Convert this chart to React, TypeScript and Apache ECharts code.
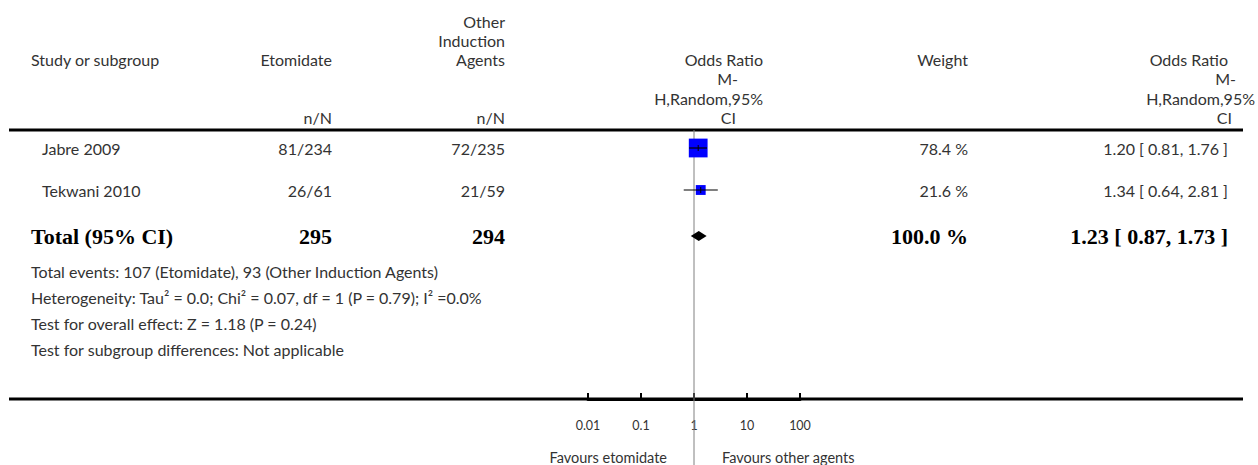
import React, { useEffect, useRef } from "react";
import * as echarts from "echarts";

// ---------- data ----------
const STUDIES = ["Jabre 2009", "Tekwani 2010"];
const ETOMIDATE_NN = ["81/234", "26/61"];
const OTHER_NN = ["72/235", "21/59"];
const ODDS_RATIO = [1.2, 1.34];
const CI_LOW = [0.81, 0.64];
const CI_HIGH = [1.76, 2.81];
const WEIGHT = [78.4, 21.6];
const WEIGHT_LABELS = ["78.4 %", "21.6 %"];
const OR_LABELS = ["1.20 [ 0.81, 1.76 ]", "1.34 [ 0.64, 2.81 ]"];

const TOTAL_LABEL = "Total (95% CI)";
const TOTAL_ETOMIDATE = "295";
const TOTAL_OTHER = "294";
const TOTAL_WEIGHT = "100.0 %";
const TOTAL_OR = [1.23];
const TOTAL_LOW = [0.87];
const TOTAL_HIGH = [1.73];
const TOTAL_OR_LABEL = "1.23 [ 0.87, 1.73 ]";

const FOOTNOTES = [
  "Total events: 107 (Etomidate), 93 (Other Induction Agents)",
  "Heterogeneity: Tau² = 0.0; Chi² = 0.07, df = 1 (P = 0.79); I² =0.0%",
  "Test for overall effect: Z = 1.18 (P = 0.24)",
  "Test for subgroup differences: Not applicable",
];

const TICK_VALUES = [0.01, 0.1, 1, 10, 100];
const TICK_LABELS = ["0.01", "0.1", "1", "10", "100"];
const FAVOURS_LEFT = "Favours etomidate";
const FAVOURS_RIGHT = "Favours other agents";

const HEAD_STUDY = "Study or subgroup";
const HEAD_ETOMIDATE = ["Etomidate"];
const HEAD_OTHER = ["Other", "Induction", "Agents"];
const HEAD_OR = ["Odds Ratio", "M-", "H,Random,95%", "CI"];
const HEAD_WEIGHT = "Weight";
const HEAD_NN = "n/N";

// ---------- layout ----------
const W = 1258;
const H = 465;
const FONT = "Lato, 'Open Sans', sans-serif";
const SERIF = "'Liberation Serif', 'DejaVu Serif', serif";
const TXT = "#333";
const FS = 16;
const RULE_TOP = 130;
const RULE_BOTTOM = 399;
const RULE_X1 = 9;
const RULE_X2 = 1243;
const ROW_Y = [148, 190];
const TOTAL_Y = 236;
const FOOT_Y = [271, 297, 323, 349];
const HEAD_Y = [21, 40.3, 59.6, 78.9, 98.2, 117.5];
const COL_STUDY = 31;
const COL_STUDY_ROW = 42;
const COL_ETO = 332;
const COL_OTH = 505;
const COL_WEIGHT = 968;
const COL_OR_R = 1228;
const HEAD_OR_MID_X = [763, 738, 763, 736];
const HEAD_OR_RIGHT_X = [1228, 1236, 1255, 1232];
const AX_LEFT = 588;
const AX_RIGHT = 800;

function txt(text: string, x: number, y: number, align: string, opts: any = {}) {
  return {
    type: "text",
    x,
    y,
    silent: true,
    style: {
      text,
      align,
      verticalAlign: "middle",
      fill: opts.fill || TXT,
      fontSize: opts.fontSize || FS,
      fontFamily: opts.fontFamily || FONT,
      fontWeight: opts.fontWeight || "normal",
    },
  };
}

export default function App() {
  const ref = useRef<HTMLDivElement>(null);

  useEffect(() => {
    if (!ref.current) return;
    const chart = echarts.init(ref.current, null, { renderer: "svg" });

    const graphics: any[] = [];
    // rules
    graphics.push({
      type: "line",
      silent: true,
      shape: { x1: RULE_X1, y1: RULE_TOP, x2: RULE_X2, y2: RULE_TOP },
      style: { stroke: "#000", lineWidth: 3 },
    });
    graphics.push({
      type: "line",
      silent: true,
      shape: { x1: RULE_X1, y1: RULE_BOTTOM, x2: RULE_X2, y2: RULE_BOTTOM },
      style: { stroke: "#000", lineWidth: 3 },
    });
    // header
    graphics.push(txt(HEAD_STUDY, COL_STUDY, HEAD_Y[2], "left"));
    HEAD_ETOMIDATE.forEach((t, i) => graphics.push(txt(t, COL_ETO, HEAD_Y[2 - (HEAD_ETOMIDATE.length - 1) + i], "right")));
    HEAD_OTHER.forEach((t, i) => graphics.push(txt(t, COL_OTH, HEAD_Y[i], "right")));
    HEAD_OR.forEach((t, i) => {
      graphics.push(txt(t, HEAD_OR_MID_X[i], HEAD_Y[2 + i], "right"));
      graphics.push(txt(t, HEAD_OR_RIGHT_X[i], HEAD_Y[2 + i], "right"));
    });
    graphics.push(txt(HEAD_WEIGHT, COL_WEIGHT, HEAD_Y[2], "right"));
    graphics.push(txt(HEAD_NN, COL_ETO, HEAD_Y[5], "right"));
    graphics.push(txt(HEAD_NN, COL_OTH, HEAD_Y[5], "right"));
    // study rows
    STUDIES.forEach((s, i) => {
      const y = ROW_Y[i];
      graphics.push(txt(s, COL_STUDY_ROW, y, "left"));
      graphics.push(txt(ETOMIDATE_NN[i], COL_ETO, y, "right"));
      graphics.push(txt(OTHER_NN[i], COL_OTH, y, "right"));
      graphics.push(txt(WEIGHT_LABELS[i], COL_WEIGHT, y, "right"));
      graphics.push(txt(OR_LABELS[i], COL_OR_R, y, "right"));
    });
    // total row
    const bold = { fontFamily: SERIF, fontWeight: "bold", fontSize: 22, fill: "#000" };
    graphics.push(txt(TOTAL_LABEL, COL_STUDY, TOTAL_Y, "left", bold));
    graphics.push(txt(TOTAL_ETOMIDATE, COL_ETO, TOTAL_Y, "right", bold));
    graphics.push(txt(TOTAL_OTHER, COL_OTH, TOTAL_Y, "right", bold));
    graphics.push(txt(TOTAL_WEIGHT, COL_WEIGHT, TOTAL_Y, "right", bold));
    graphics.push(txt(TOTAL_OR_LABEL, COL_OR_R, TOTAL_Y, "right", bold));
    // footnotes
    FOOTNOTES.forEach((f, i) => graphics.push(txt(f, COL_STUDY, FOOT_Y[i], "left")));
    // favours
    graphics.push(txt(FAVOURS_LEFT, 667, 457, "right", { fontSize: 14.5 }));
    graphics.push(txt(FAVOURS_RIGHT, 722, 457, "left", { fontSize: 14.5 }));

    const studyData = STUDIES.map((_, i) => [ODDS_RATIO[i], CI_LOW[i], CI_HIGH[i], WEIGHT[i], ROW_Y[i]]);
    const totalData = TOTAL_OR.map((v, i) => [v, TOTAL_LOW[i], TOTAL_HIGH[i], TOTAL_Y]);

    chart.setOption({
      animation: false,
      grid: {
        left: AX_LEFT,
        right: W - AX_RIGHT,
        top: RULE_TOP,
        bottom: H - RULE_BOTTOM,
        containLabel: false,
      },
      xAxis: {
        type: "log",
        logBase: 10,
        min: TICK_VALUES[0],
        max: TICK_VALUES[TICK_VALUES.length - 1],
        axisLine: { show: true, lineStyle: { color: "#000", width: 3 } },
        axisTick: { show: true, inside: true, length: 6, lineStyle: { color: "#000", width: 2 } },
        axisLabel: {
          margin: 20,
          color: TXT,
          fontSize: 12.5,
          fontFamily: FONT,
          formatter: (v: number) => {
            const idx = TICK_VALUES.findIndex((t) => Math.abs(Math.log10(t) - Math.log10(v)) < 1e-6);
            return idx >= 0 ? TICK_LABELS[idx] : "";
          },
        },
        splitLine: { show: false },
      },
      yAxis: {
        type: "value",
        min: RULE_TOP,
        max: RULE_BOTTOM,
        inverse: true,
        show: false,
        splitLine: { show: false },
      },
      graphic: graphics,
      series: [
        {
          type: "custom",
          name: "null",
          z: 1,
          clip: false,
          data: [[1, RULE_TOP]],
          renderItem: (params: any, api: any) => {
            const p = api.coord([api.value(0), api.value(1)]);
            return {
              type: "line",
              shape: { x1: p[0], y1: p[1], x2: p[0], y2: H },
              style: { stroke: "#808080", lineWidth: 1 },
            };
          },
        },
        {
          type: "custom",
          name: "studies",
          z: 3,
          clip: false,
          data: studyData,
          encode: { x: 0, y: 4 },
          renderItem: (params: any, api: any) => {
            const y = api.value(4);
            const c = api.coord([api.value(0), y]);
            const l = api.coord([api.value(1), y]);
            const h = api.coord([api.value(2), y]);
            const side = 2.12 * Math.sqrt(api.value(3));
            return {
              type: "group",
              children: [
                {
                  type: "rect",
                  shape: { x: c[0] - side / 2, y: c[1] - side / 2, width: side, height: side },
                  style: { fill: "#0000ff" },
                },
                {
                  type: "line",
                  shape: { x1: l[0], y1: c[1], x2: h[0], y2: c[1] },
                  style: { stroke: "#000", lineWidth: 1.2 },
                },
                {
                  type: "line",
                  shape: { x1: c[0], y1: c[1] - 3, x2: c[0], y2: c[1] + 3 },
                  style: { stroke: "#000", lineWidth: 1 },
                },
              ],
            };
          },
        },
        {
          type: "custom",
          name: "total",
          z: 3,
          clip: false,
          data: totalData,
          encode: { x: 0, y: 3 },
          renderItem: (params: any, api: any) => {
            const y = api.value(3);
            const c = api.coord([api.value(0), y]);
            const l = api.coord([api.value(1), y]);
            const h = api.coord([api.value(2), y]);
            return {
              type: "polygon",
              shape: {
                points: [
                  [l[0], c[1]],
                  [c[0], c[1] - 5],
                  [h[0], c[1]],
                  [c[0], c[1] + 5],
                ],
              },
              style: { fill: "#000" },
            };
          },
        },
      ],
    });

    return () => chart.dispose();
  }, []);

  return (
    <div
      ref={ref}
      style={{ position: "absolute", left: 0, top: 0, width: W, height: H, background: "#fff" }}
    />
  );
}
